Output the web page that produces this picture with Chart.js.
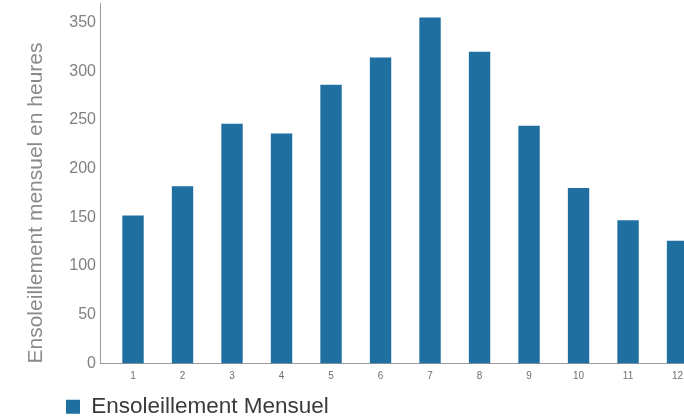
<!DOCTYPE html>
<html>
<head>
<meta charset="utf-8">
<script src="https://cdn.jsdelivr.net/npm/chart.js@4/dist/chart.umd.min.js"></script>
<style>
  html, body { margin: 0; padding: 0; background: #ffffff; overflow: hidden; }
  #wrap { position: relative; width: 684px; height: 419px; }
</style>
</head>
<body>
<div id="wrap"><canvas id="c"></canvas></div>
<script>
// Data
const months = [1, 2, 3, 4, 5, 6, 7, 8, 9, 10, 11, 12];
const sunshineHours = [152, 182, 246, 236, 286, 314, 355, 320, 244, 180, 147, 126];
const yTicks = [0, 50, 100, 150, 200, 250, 300, 350];
const seriesLabel = 'Ensoleillement Mensuel';
const yTitle = 'Ensoleillement mensuel en heures';

const points = months.map((m, i) => ({ x: m, y: sunshineHours[i] }));

const legendNudge = {
  id: 'legendNudge',
  afterLayout(chart) {
    const l = chart.legend;
    if (!l) return;
    l.left += 60; l.right += 60;
    l.top += 9; l.bottom += 9;
  }
};

new Chart(document.getElementById('c'), {
  type: 'bar',
  data: {
    datasets: [{
      label: seriesLabel,
      data: points,
      backgroundColor: '#1f6fa1',
      borderWidth: 0,
      categoryPercentage: 0.8,
      barPercentage: 0.54
    }]
  },
  options: {
    responsive: true,
    maintainAspectRatio: false,
    animation: false,
    layout: { padding: { top: 3, right: 0, left: 0, bottom: 0 } },
    plugins: {
      legend: {
        display: true,
        position: 'bottom',
        align: 'start',
        labels: {
          boxWidth: 14,
          boxHeight: 14,
          padding: 6,
          color: '#3a3a3a',
          font: { family: 'Liberation Sans', size: 22.5 }
        }
      },
      tooltip: { enabled: false }
    },
    scales: {
      x: {
        type: 'linear',
        min: 0.333,
        max: 12.13,
        offset: false,
        grid: { display: false, drawTicks: false, offset: false },
        border: { display: true, color: '#9a9a9a', width: 1 },
        afterBuildTicks: s => { s.ticks = months.map(v => ({ value: v })); },
        afterFit: s => { s.height = 17; s.paddingLeft = 0; s.paddingRight = 0; },
        ticks: {
          padding: 7,
          color: '#707070',
          autoSkip: false,
          maxRotation: 0,
          font: { family: 'Liberation Sans', size: 10 }
        }
      },
      y: {
        min: 0,
        max: 370,
        grid: { display: false, drawTicks: false },
        border: { display: true, color: '#9a9a9a', width: 1 },
        afterBuildTicks: s => { s.ticks = yTicks.map(v => ({ value: v })); },
        afterFit: s => { s.width = 100; s.paddingTop = 0; s.paddingBottom = 0; },
        ticks: {
          padding: 4,
          color: '#808080',
          font: { family: 'Liberation Sans', size: 16 }
        },
        title: {
          display: true,
          text: yTitle,
          align: 'start',
          color: '#8a8a8a',
          padding: { top: 24, bottom: 8 },
          font: { family: 'Liberation Sans', size: 21 }
        }
      }
    }
  },
  plugins: [legendNudge]
});
</script>
</body>
</html>
